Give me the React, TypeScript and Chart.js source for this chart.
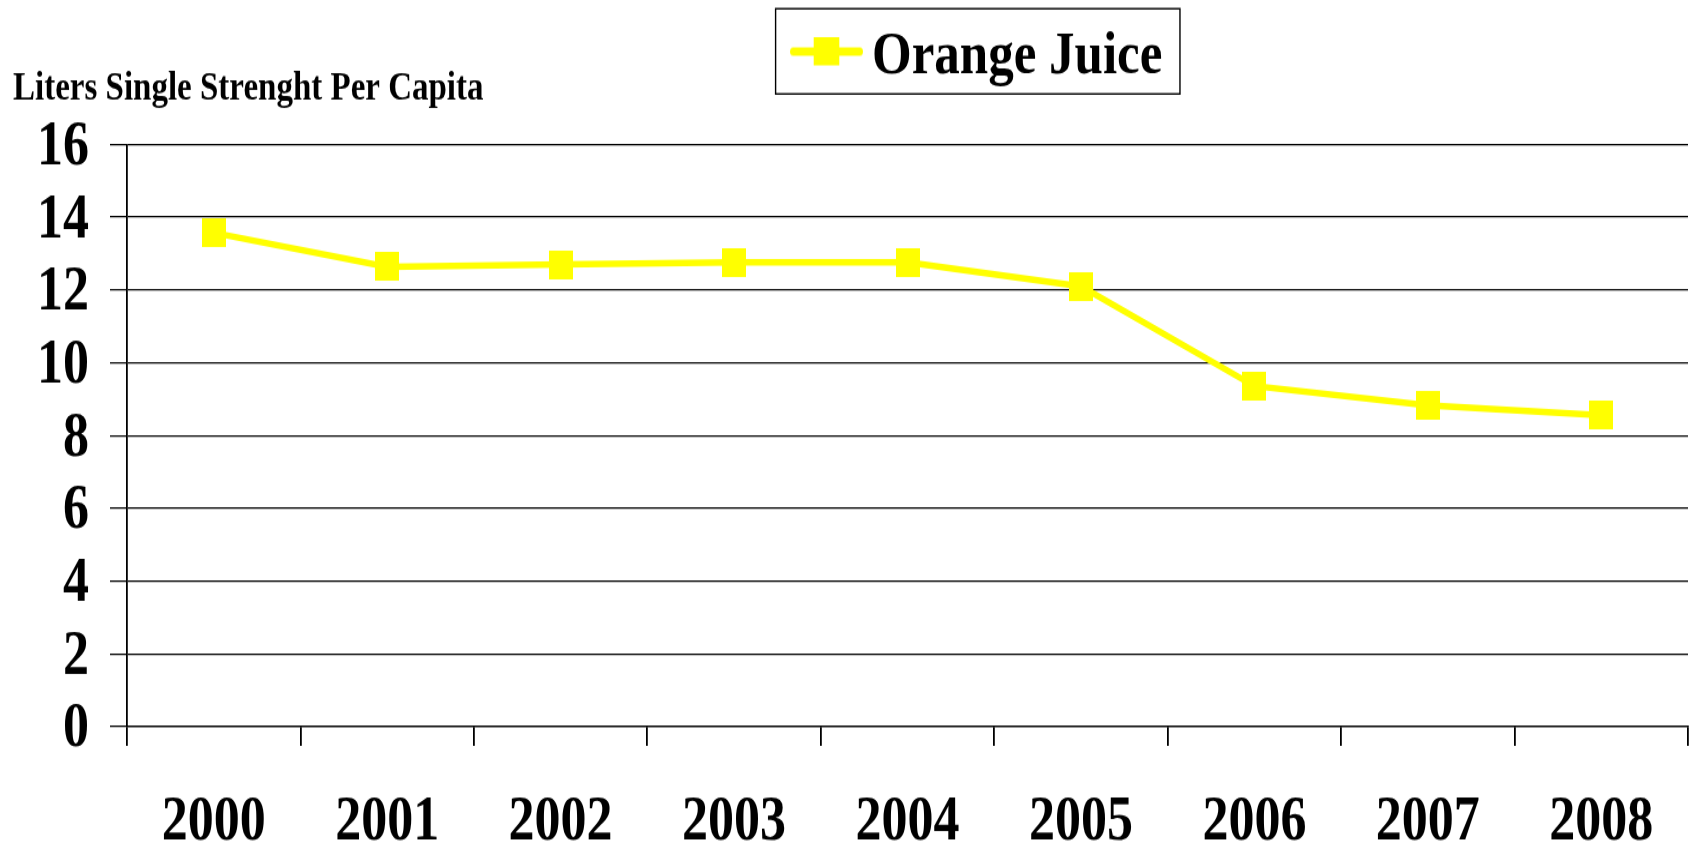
import React, { useEffect, useRef } from 'react';
import { Chart, registerables } from 'chart.js';

Chart.register(...registerables);

// ---- data ----
const years = ['2000', '2001', '2002', '2003', '2004', '2005', '2006', '2007', '2008'];
const orangeJuice = [13.57, 12.64, 12.7, 12.76, 12.76, 12.1, 9.36, 8.83, 8.56];
const yTickValues = [0, 2, 4, 6, 8, 10, 12, 14, 16];
const seriesName = 'Orange Juice';
const yAxisTitle = 'Liters Single Strenght Per Capita';

// ---- presentation ----
const PAGE_W = 1696;
const PAGE_H = 843;
const BUF_H = 703; // drawing buffer, shown stretched vertically to PAGE_H
const SERIF = "'Liberation Serif', 'Times New Roman', Times, serif";
const YELLOW = '#FFFF00';
const INK = '#000000';
const LEGEND_DX = 771.5;

function solidMarker(w: number, h: number) {
  const c = document.createElement('canvas');
  c.width = w;
  c.height = h;
  const g = c.getContext('2d')!;
  g.fillStyle = YELLOW;
  g.fillRect(0, 0, w, h);
  return c;
}

function legendMarker() {
  const c = document.createElement('canvas');
  c.width = 73;
  c.height = 34;
  const g = c.getContext('2d')!;
  g.strokeStyle = YELLOW;
  g.lineWidth = 7;
  g.lineCap = 'round';
  g.beginPath();
  g.moveTo(3.5, 12.5);
  g.lineTo(69.5, 12.5);
  g.stroke();
  g.fillStyle = YELLOW;
  g.fillRect(23.7, 0, 25.6, 24);
  return c;
}

const legendShift = {
  id: 'legendShift',
  afterLayout(chart: any) {
    const lg = chart.legend;
    if (lg) {
      lg.left += LEGEND_DX;
      lg.right += LEGEND_DX;
    }
  },
};

const legendFrame = {
  id: 'legendFrame',
  afterDraw(chart: any) {
    const lg = chart.legend;
    const hb = lg && lg.legendHitBoxes && lg.legendHitBoxes[0];
    if (!hb) return;
    const ctx = chart.ctx;
    const l = hb.left - 30.9;
    const t = hb.top - 14.75;
    const r = hb.left + hb.width + 17.6;
    const b = hb.top + hb.height + 5.3;
    ctx.save();
    ctx.strokeStyle = INK;
    ctx.lineWidth = 1.4;
    ctx.strokeRect(l, t, r - l, b - t);
    ctx.restore();
  },
};

export default function App() {
  const ref = useRef<HTMLCanvasElement | null>(null);

  useEffect(() => {
    const canvas = ref.current;
    if (!canvas) return;
    const pointImg = solidMarker(24, 24);
    const legendImg = legendMarker();
    const tickFont = { family: SERIF, size: 52, weight: 'bold' as const };

    const chart = new Chart(canvas, {
      type: 'line',
      data: {
        labels: years,
        datasets: [
          {
            label: seriesName,
            data: orangeJuice,
            borderColor: YELLOW,
            backgroundColor: YELLOW,
            borderWidth: 5.5,
            tension: 0,
            fill: false,
            pointStyle: pointImg as any,
            pointRadius: 12,
            pointHoverRadius: 12,
            clip: false as any,
          },
        ],
      },
      options: {
        animation: false,
        responsive: false,
        maintainAspectRatio: false,
        devicePixelRatio: 1,
        events: [],
        layout: { autoPadding: false, padding: { left: 13, right: 8, top: 0, bottom: 0 } },
        plugins: {
          legend: {
            display: true,
            position: 'top',
            align: 'start',
            labels: {
              usePointStyle: true,
              pointStyle: legendImg as any,
              pointStyleWidth: 40,
              padding: 22,
              color: INK,
              font: { family: SERIF, size: 51, weight: 'bold' },
            },
          },
          title: {
            display: true,
            text: yAxisTitle,
            position: 'top',
            align: 'start',
            weight: 500,
            color: INK,
            font: { family: SERIF, size: 33, weight: 'bold' },
            padding: { top: -28.7, bottom: 26.5 },
          } as any,
          tooltip: { enabled: false },
        },
        scales: {
          x: {
            type: 'category',
            offset: true,
            grid: {
              offset: true,
              drawOnChartArea: false,
              drawTicks: true,
              tickLength: 16,
              color: INK,
              lineWidth: 1.8,
            },
            border: { display: true, color: INK, width: 1.3 },
            ticks: {
              color: INK,
              font: tickFont,
              padding: 33.6,
              autoSkip: false,
              maxRotation: 0,
              minRotation: 0,
            },
            afterFit: (s: any) => {
              s.height = 97;
              s.paddingLeft = 0;
              s.paddingRight = 0;
            },
          },
          y: {
            min: yTickValues[0],
            max: yTickValues[yTickValues.length - 1],
            ticks: {
              stepSize: yTickValues[1] - yTickValues[0],
              color: INK,
              font: tickFont,
              padding: 21,
              autoSkip: false,
              labelOffset: 3,
            },
            grid: {
              color: INK,
              lineWidth: 1.25,
              drawTicks: true,
              tickLength: 17,
            },
            border: { display: true, color: INK, width: 1.8 },
            afterFit: (s: any) => {
              s.width = 114;
            },
          },
        },
      },
      plugins: [legendShift, legendFrame],
    });

    return () => {
      chart.destroy();
    };
  }, []);

  return (
    <div
      style={{
        position: 'fixed',
        left: 0,
        top: 0,
        width: PAGE_W,
        height: PAGE_H,
        background: '#ffffff',
        overflow: 'hidden',
      }}
    >
      <canvas
        ref={ref}
        width={PAGE_W}
        height={BUF_H}
        style={{ display: 'block', width: PAGE_W + 'px', height: PAGE_H + 'px' }}
      />
    </div>
  );
}
